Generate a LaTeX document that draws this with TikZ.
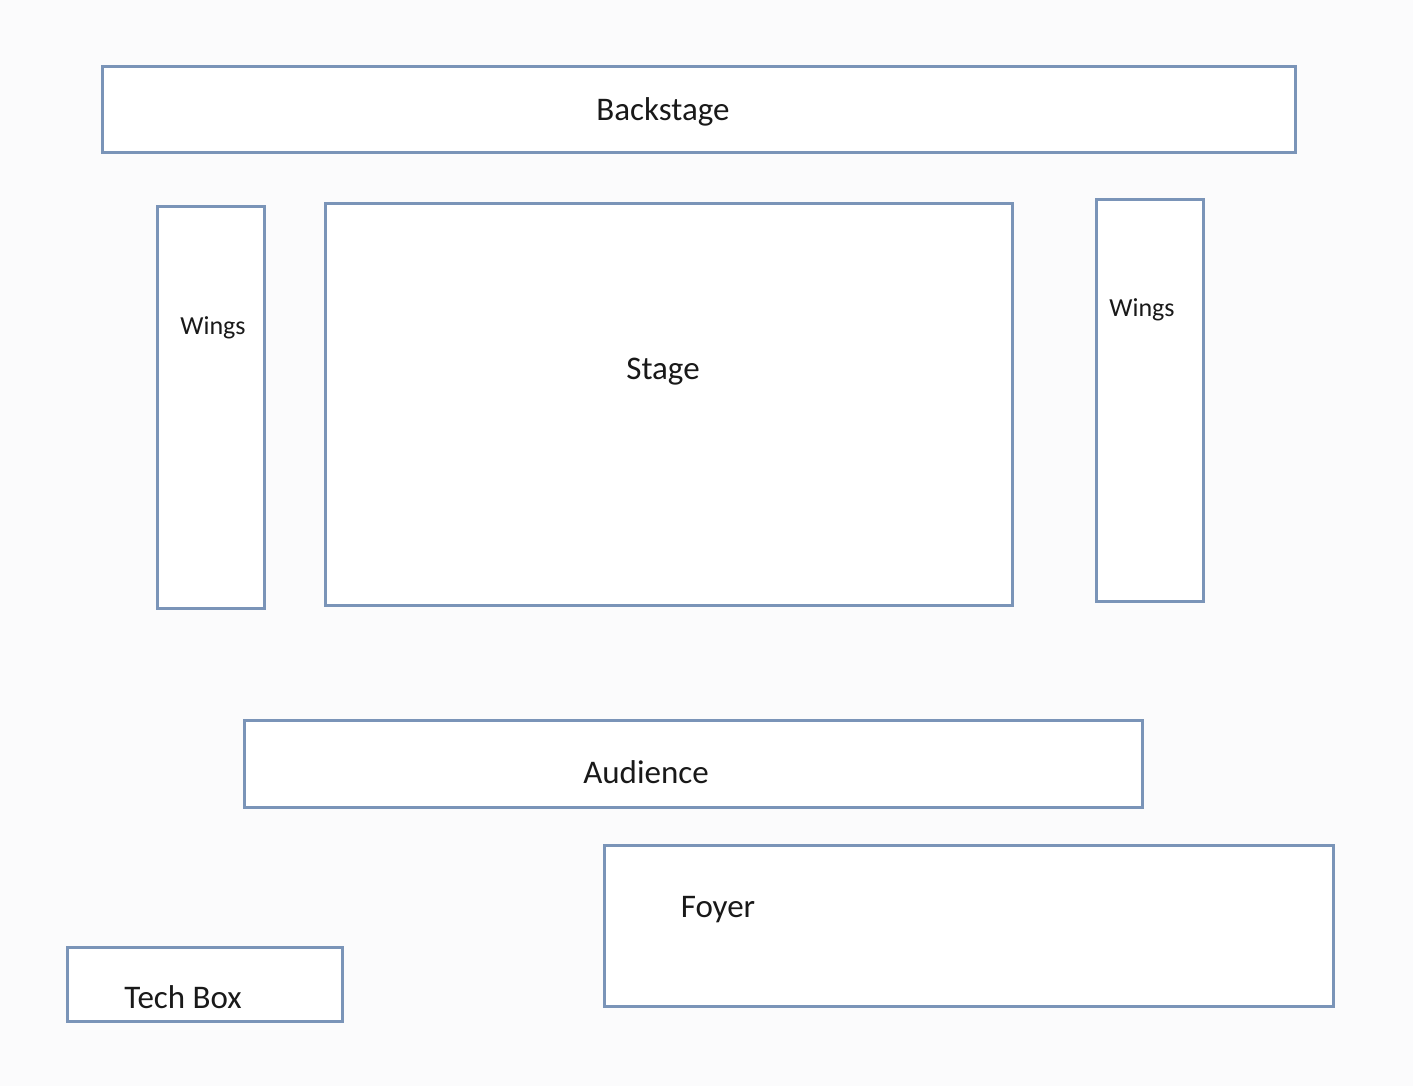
\documentclass[tikz,border=0pt]{standalone}
\usepackage{fontspec}
\setmainfont{Carlito}
\definecolor{boxline}{RGB}{122,148,184}
\definecolor{bg}{RGB}{251,251,252}
\definecolor{txt}{RGB}{25,25,25}
\begin{document}
\begin{tikzpicture}[x=1pt,y=-1pt,
  room/.style={draw=boxline,line width=3pt,fill=white},
  lbl/.style={text=txt,font=\fontsize{33}{36}\selectfont,inner sep=0pt},
  small/.style={text=txt,font=\fontsize{26}{28}\selectfont,inner sep=0pt}]
\fill[bg] (0,0) rectangle (1413,1086);
\useasboundingbox (0,0) rectangle (1413,1086);
\draw[room] (102,67) rectangle (1295,153);
\draw[room] (157,207) rectangle (264,608);
\draw[room] (325,204) rectangle (1012,605);
\draw[room] (1096,200) rectangle (1203,601);
\draw[room] (244,720) rectangle (1142,807);
\draw[room] (604,845) rectangle (1333,1006);
\draw[room] (67,947) rectangle (342,1021);
\node[lbl] (backstage) at (663,112) {Backstage};
\node[small] (wingsL) at (213,328) {Wings};
\node[lbl] (stage) at (663,372) {Stage};
\node[small] (wingsR) at (1142,310) {Wings};
\node[lbl] (audience) at (646,772) {Audience};
\node[lbl] (foyer) at (718,910) {Foyer};
\node[lbl] (techbox) at (183,997) {Tech Box};
\end{tikzpicture}
\end{document}
